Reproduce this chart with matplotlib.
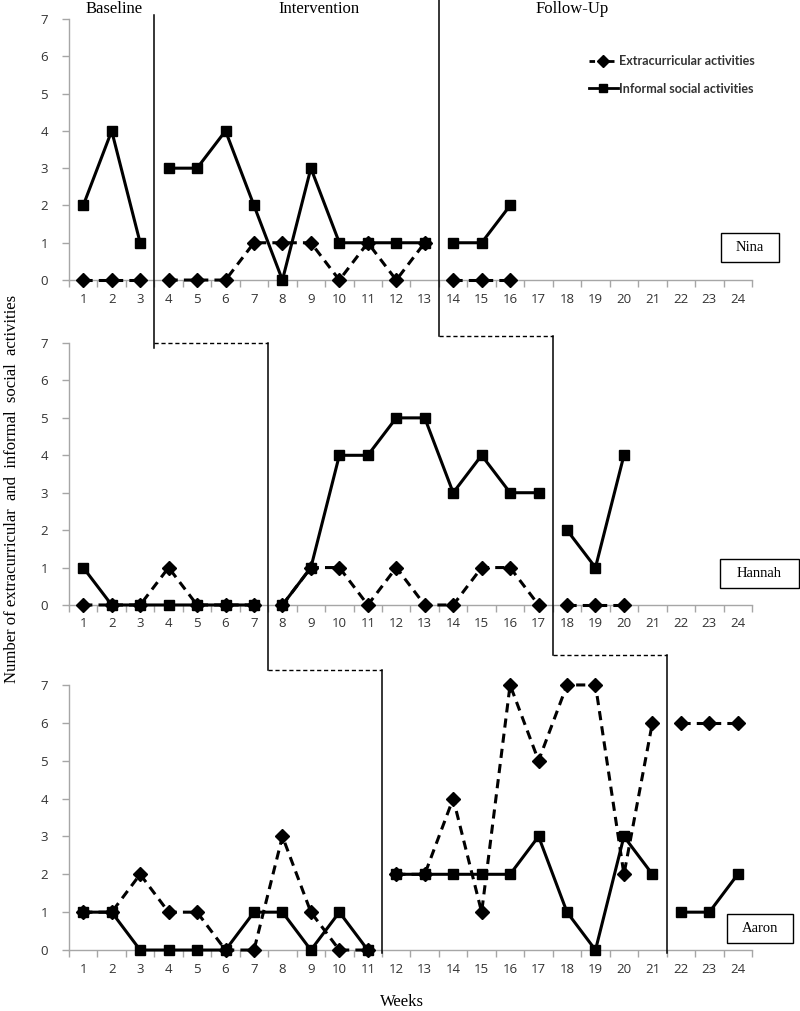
import matplotlib
matplotlib.use("Agg")
import matplotlib.pyplot as plt
from matplotlib.lines import Line2D
from matplotlib.patches import Rectangle
from matplotlib.transforms import blended_transform_factory

# ---- data (weeks start at 1 for every participant) ----
nina_extra = [0, 0, 0, 0, 0, 0, 1, 1, 1, 0, 1, 0, 1, 0, 0, 0]
nina_social = [2, 4, 1, 3, 3, 4, 2, 0, 3, 1, 1, 1, 1, 1, 1, 2]
nina_phase_ends = [3, 13, 16]

hannah_extra = [0, 0, 0, 1, 0, 0, 0, 0, 1, 1, 0, 1, 0, 0, 1, 1, 0, 0, 0, 0]
hannah_social = [1, 0, 0, 0, 0, 0, 0, 0, 1, 4, 4, 5, 5, 3, 4, 3, 3, 2, 1, 4]
hannah_phase_ends = [7, 17, 20]

aaron_extra = [1, 1, 2, 1, 1, 0, 0, 3, 1, 0, 0,
               2, 2, 4, 1, 7, 5, 7, 7, 2, 6, 6, 6, 6]
aaron_social = [1, 1, 0, 0, 0, 0, 1, 1, 0, 1, 0,
                2, 2, 2, 2, 2, 3, 1, 0, 3, 2, 1, 1, 2]
aaron_phase_ends = [11, 21, 24]

names = ["Nina", "Hannah", "Aaron"]
phase_names = ["Baseline", "Intervention", "Follow-Up"]
week_labels = [str(w) for w in range(1, 25)]
y_ticks = list(range(0, 8))

panels = [
    (nina_extra, nina_social, nina_phase_ends),
    (hannah_extra, hannah_social, hannah_phase_ends),
    (aaron_extra, aaron_social, aaron_phase_ends),
]

fig = plt.figure(figsize=(8.0, 10.11), dpi=100)

serif = "Liberation Serif"
tick_font = "Open Sans"
axis_gray = "#a6a6a6"

# axes boxes (left, bottom, width, height) in figure fraction
boxes = [
    (0.08625, 0.7230, 0.85375, 0.2582),
    (0.08625, 0.4016, 0.85375, 0.2591),
    (0.08625, 0.0603, 0.85375, 0.2622),
]

axes = []
for (extra, social, ends), box in zip(panels, boxes):
    ax = fig.add_axes(box)
    axes.append(ax)
    start = 0
    for end in ends:
        wk = list(range(start + 1, end + 1))
        ax.plot(wk, social[start:end], color="black", lw=2.2, marker="s",
                markersize=7.5, zorder=3, clip_on=False)
        ax.plot(wk, extra[start:end], color="black", lw=2.2, ls=(0, (3, 2)),
                marker="D", markersize=7.5, zorder=4, clip_on=False)
        start = end

    ax.set_xlim(0.5, 24.5)
    ax.set_ylim(0, 7)
    ax.set_xticks(range(1, 25))
    ax.set_xticklabels(week_labels)
    ax.set_xticks([w + 0.5 for w in range(0, 25)], minor=True)
    ax.set_yticks(y_ticks)
    ax.tick_params(axis="x", which="major", length=0, pad=9)
    ax.tick_params(axis="x", which="minor", length=5, color=axis_gray, width=1)
    ax.tick_params(axis="y", length=5, color=axis_gray, width=1, pad=10)
    for lab in ax.get_xticklabels() + ax.get_yticklabels():
        lab.set_fontfamily(tick_font)
        lab.set_fontsize(9.5)
        lab.set_color("#333333")
    for side in ["top", "right"]:
        ax.spines[side].set_visible(False)
    for side in ["left", "bottom"]:
        ax.spines[side].set_color(axis_gray)
        ax.spines[side].set_linewidth(1)
    ax.patch.set_alpha(0)

# legend in the first panel
leg_handles = [
    Line2D([], [], color="black", lw=2.0, ls=(0, (2, 1.5)), marker="D", markersize=6),
    Line2D([], [], color="black", lw=2.0, marker="s", markersize=6),
]
leg = axes[0].legend(leg_handles, ["Extracurricular activities", "Informal social activities"],
                     loc="upper left", bbox_to_anchor=(0.761, 0.862), frameon=False,
                     borderpad=0, borderaxespad=0,
                     handlelength=2.3, handletextpad=0.1, labelspacing=1.25,
                     prop={"family": "Lato", "weight": "bold", "size": 9})
for t in leg.get_texts():
    t.set_color("#333333")

# phase change lines: x in week units, y in figure fraction
tr = blended_transform_factory(axes[0].transData, fig.transFigure)
solid = dict(color="black", lw=1.1, transform=tr)
dashed = dict(color="black", lw=1.0, ls=(0, (3, 2)), transform=tr)

# first phase change (baseline -> intervention)
fig.add_artist(Line2D([3.5, 3.5], [0.985, 0.656], **solid))
fig.add_artist(Line2D([3.5, 7.5], [0.661, 0.661], **dashed))
fig.add_artist(Line2D([7.5, 7.5], [0.661, 0.337], **solid))
fig.add_artist(Line2D([7.5, 11.5], [0.337, 0.337], **dashed))
fig.add_artist(Line2D([11.5, 11.5], [0.337, 0.0575], **solid))

# second phase change (intervention -> follow-up)
fig.add_artist(Line2D([13.5, 13.5], [1.0, 0.668], **solid))
fig.add_artist(Line2D([13.5, 17.5], [0.668, 0.668], **dashed))
fig.add_artist(Line2D([17.5, 17.5], [0.668, 0.352], **solid))
fig.add_artist(Line2D([17.5, 21.5], [0.352, 0.352], **dashed))
fig.add_artist(Line2D([21.5, 21.5], [0.352, 0.0575], **solid))

# phase titles
for name, xc in zip(phase_names, [114, 319, 572]):
    fig.text(xc / 800, 1 - 9 / 1011, name, ha="center", va="center",
             fontfamily=serif, fontsize=12)

# participant name boxes (pixel boxes: x0, y0, x1, y1)
name_boxes = [(721, 233, 779, 262), (720, 559, 799, 588), (727, 914, 793, 943)]
for name, (x0, y0, x1, y1) in zip(names, name_boxes):
    fig.add_artist(Rectangle((x0 / 800, 1 - y1 / 1011), (x1 - x0) / 800, (y1 - y0) / 1011,
                             transform=fig.transFigure, fill=False, ec="black", lw=1))
    fig.text((x0 + x1) / 2 / 800, 1 - (y0 + y1) / 2 / 1011, name, ha="center",
             va="center", fontfamily=serif, fontsize=10.5)

fig.text(12 / 800, 1 - 489 / 1011,
         "Number of extracurricular  and  informal  social  activities",
         rotation=90, ha="center", va="center", fontfamily=serif, fontsize=12)
fig.text(402 / 800, 1 - 1002 / 1011, "Weeks", ha="center", va="center",
         fontfamily=serif, fontsize=12)

fig.savefig("out.png", dpi=100)
